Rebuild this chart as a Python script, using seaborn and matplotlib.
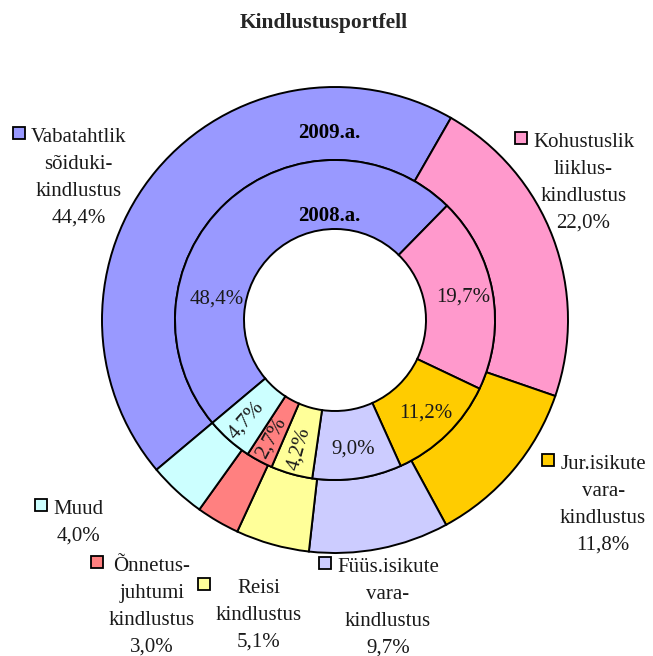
import numpy as np
import matplotlib
matplotlib.use("Agg")
import matplotlib.pyplot as plt
import seaborn as sns
from matplotlib.patches import Rectangle

# ---- data ----
categories = [
    "Vabatahtlik\nsõiduki-\nkindlustus",
    "Kohustuslik\nliiklus-\nkindlustus",
    "Jur.isikute\nvara-\nkindlustus",
    "Füüs.isikute\nvara-\nkindlustus",
    "Reisi\nkindlustus",
    "Õnnetus-\njuhtumi\nkindlustus",
    "Muud",
]
share_2009 = [44.4, 22.0, 11.8, 9.7, 5.1, 3.0, 4.0]
share_2008 = [48.4, 19.7, 11.2, 9.0, 4.2, 2.7, 4.7]
ring_labels = ["2009.a.", "2008.a."]
title = "Kindlustusportfell"

# ---- style / layout ----
colors = ["#9999FF", "#FF99CC", "#FFCC00", "#CCCCFF", "#FFFF99", "#FF8080", "#CCFFFF"]
W, H = 653, 656
# legend-key square (left x, center y) for each outer label, in pixels
label_layout = [(13, 133), (515, 138), (542, 460), (319, 563),
                (198, 584), (91, 562), (35, 505)]

sns.set_theme(style="white")
plt.rcParams["font.family"] = ["Liberation Serif", "DejaVu Serif"]
FS = 15

fig = plt.figure(figsize=(W / 100, H / 100), dpi=100)
ax = fig.add_axes([0, 0, 1, 1])


def P(x, y):
    return (x, H - y)


cx, cy = P(335, 320)
R_out, R_mid, R_hole = 233, 160, 91
outer, _ = ax.pie(share_2009, colors=colors, radius=R_out, center=(cx, cy),
                  startangle=220, counterclock=False, frame=True,
                  wedgeprops=dict(width=R_out - R_mid, edgecolor="black", linewidth=1.4))
inner, _ = ax.pie(share_2008, colors=colors, radius=R_mid, center=(cx, cy),
                  startangle=220, counterclock=False, frame=True,
                  wedgeprops=dict(width=R_mid - R_hole, edgecolor="black", linewidth=1.4))


def fmt(v):
    return f"{v:.1f}".replace(".", ",") + "%"


# inner ring percentage labels
for i, (w, v) in enumerate(zip(inner, share_2008)):
    ang = (w.theta1 + w.theta2) / 2
    r = 130
    if i == 0:
        ang, r = 170, 120
    rot = 0
    if v < 5:
        r = 134
        rot = ang % 360
        if 90 < rot < 270:
            rot -= 180
    x = cx + r * np.cos(np.radians(ang))
    y = cy + r * np.sin(np.radians(ang))
    ax.text(x, y, fmt(v), ha="center", va="center", rotation=rot,
            rotation_mode="anchor", fontsize=FS, color="#1a1a1a")

# ring year labels
ax.text(cx - 6, cy + 187, ring_labels[0], ha="center", va="center",
        fontsize=FS, fontweight="bold", color="black")
ax.text(cx - 6, cy + 104, ring_labels[1], ha="center", va="center",
        fontsize=FS, fontweight="bold", color="black")

# outer labels with legend keys
SQ = 12
for name, v, col, (sx, sy) in zip(categories, share_2009, colors, label_layout):
    x0, y0 = P(sx, sy)
    ax.add_patch(Rectangle((x0, y0 - SQ / 2), SQ, SQ, facecolor=col,
                           edgecolor="black", linewidth=1.3))
    ax.text(x0 + SQ + 6, y0 + 5, f"{name}\n{fmt(v)}", ha="left", va="top",
            multialignment="center", fontsize=FS, linespacing=1.56, color="#1a1a1a")

# title
tx, ty = P(324, 23)
ax.text(tx, ty, title, ha="center", va="center", fontsize=15.5, fontweight="bold")

ax.set_xlim(0, W)
ax.set_ylim(0, H)
ax.set_aspect("equal")
ax.axis("off")

fig.savefig("out.png", dpi=100, facecolor="white")
